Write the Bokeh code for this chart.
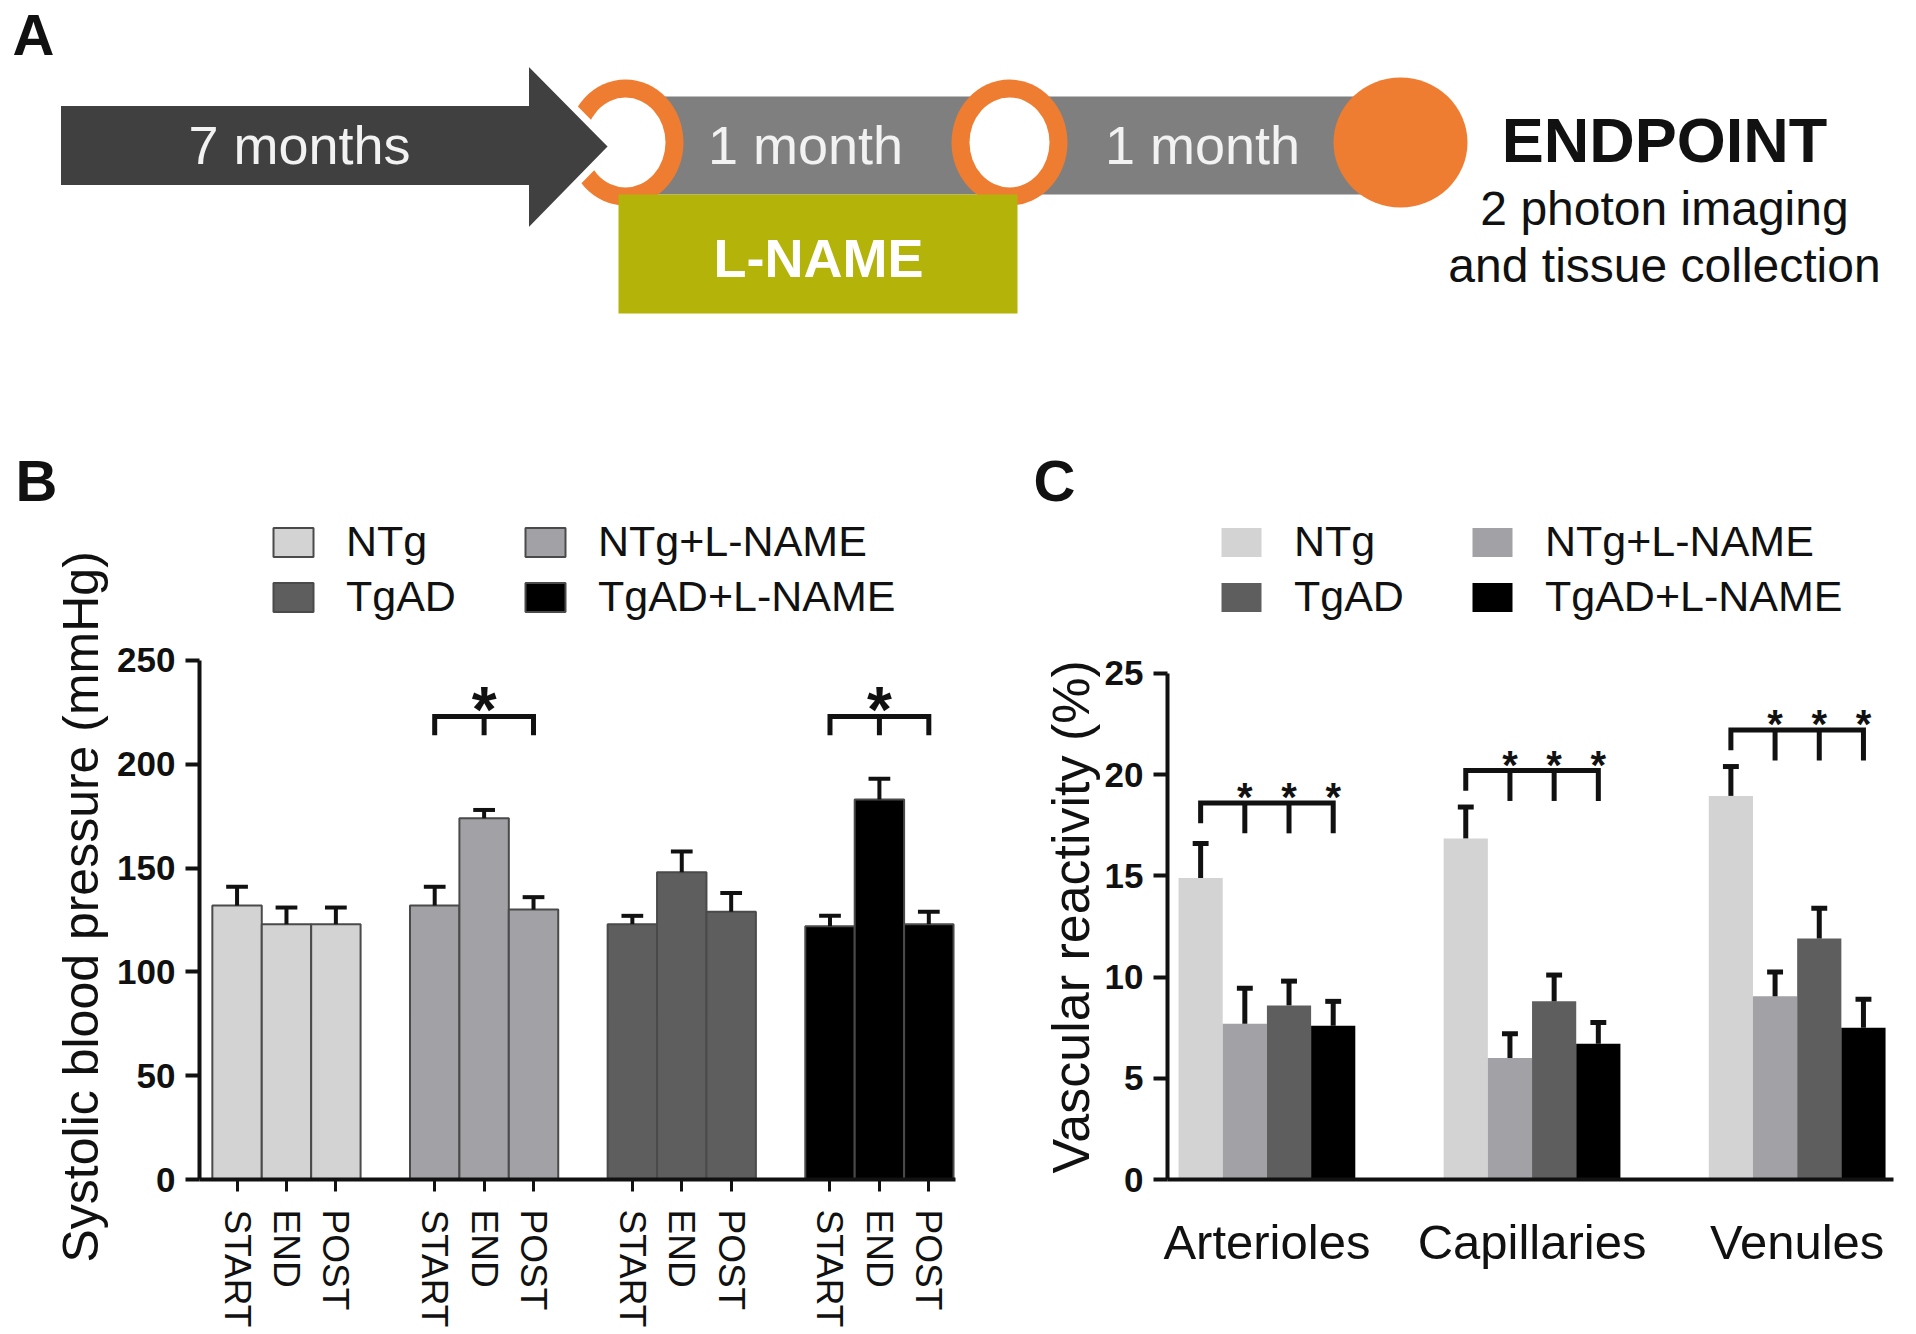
from bokeh.plotting import figure
from bokeh.models import Range1d, FixedTicker, Legend, LegendItem, Title
from bokeh.layouts import column, row
from bokeh.core.properties import value
from bokeh.embed import file_html
from bokeh.resources import INLINE

FONT = "Liberation Sans"
INK = "#111111"
ORANGE = "#ee7d31"
DARK = "#404040"
MIDGRAY = "#7f7f7f"
OLIVE = "#b4b30a"

# ---------------- data ----------------
panel_letters = ["A", "B", "C"]
timeline_labels = ["7 months", "1 month", "1 month"]
treatment_label = "L-NAME"
endpoint_title = "ENDPOINT"
endpoint_lines = ["2 photon imaging", "and tissue collection"]

groups = ["NTg", "NTg+L-NAME", "TgAD", "TgAD+L-NAME"]
group_colors = ["#d3d3d3", "#a1a1a6", "#5e5e5e", "#000000"]

timepoints = ["START", "END", "POST"]
sbp_ntg = [132, 123, 123]
sbp_ntg_lname = [132, 174, 130]
sbp_tgad = [123, 148, 129]
sbp_tgad_lname = [122, 183, 123]
sbp_sem_ntg = [9, 8, 8]
sbp_sem_ntg_lname = [9, 4, 6]
sbp_sem_tgad = [4, 10, 9]
sbp_sem_tgad_lname = [5, 10, 6]
sbp_sig_groups = ["NTg+L-NAME", "TgAD+L-NAME"]
sbp_sig_level = 223
sbp_ticks = [0, 50, 100, 150, 200, 250]
sbp_axis_title = "Systolic blood pressure (mmHg)"

vessels = ["Arterioles", "Capillaries", "Venules"]
vr_ntg = [14.9, 16.85, 18.95]
vr_ntg_lname = [7.7, 6.0, 9.05]
vr_tgad = [8.6, 8.8, 11.9]
vr_tgad_lname = [7.6, 6.7, 7.5]
vr_sem_ntg = [1.7, 1.55, 1.45]
vr_sem_ntg_lname = [1.75, 1.2, 1.2]
vr_sem_tgad = [1.2, 1.3, 1.5]
vr_sem_tgad_lname = [1.2, 1.05, 1.4]
vr_sig_levels = [18.6, 20.2, 22.2]
vr_ticks = [0, 5, 10, 15, 20, 25]
vr_axis_title = "Vascular reactivity (%)"

sbp_means = [sbp_ntg, sbp_ntg_lname, sbp_tgad, sbp_tgad_lname]
sbp_sems = [sbp_sem_ntg, sbp_sem_ntg_lname, sbp_sem_tgad, sbp_sem_tgad_lname]
vr_means = [vr_ntg, vr_ntg_lname, vr_tgad, vr_tgad_lname]
vr_sems = [vr_sem_ntg, vr_sem_ntg_lname, vr_sem_tgad, vr_sem_tgad_lname]


def base_fig(**kw):
    p = figure(output_backend="svg", toolbar_location=None, **kw)
    p.grid.visible = False
    p.outline_line_color = None
    p.background_fill_color = "white"
    p.border_fill_color = "white"
    return p


# ---------------- panel A : timeline (1 unit = 1 px) ----------------
pA = base_fig(width=1916, height=513, x_range=Range1d(0, 1916), y_range=Range1d(0, 513),
              x_axis_type=None, y_axis_type=None, min_border=0)

pA.quad(left=[600], right=[1400], bottom=[319], top=[417], fill_color=MIDGRAY, line_color=None)
pA.ellipse(x=[625, 1009], y=[371, 371], width=116, height=126, fill_color=ORANGE, line_color=None)
pA.ellipse(x=[625, 1009], y=[371, 371], width=80, height=90, fill_color="white", line_color=None)
pA.ellipse(x=[1400], y=[371], width=134, height=130, fill_color=ORANGE, line_color=None)
pA.quad(left=[618], right=[1017], bottom=[200], top=[319], fill_color=OLIVE, line_color=None)
pA.patch(x=[57, 525, 525, 612, 525, 525, 57], y=[411, 411, 455, 367, 278, 325, 325],
         fill_color=DARK, line_color="white", line_width=7, line_join="miter")

pA.text(x=[299, 805, 1202], y=[369, 369, 369], text=timeline_labels,
        text_font=value(FONT), text_font_size="54px", text_align="center",
        text_baseline="middle", text_color="#f2f2f2")
pA.text(x=[818], y=[256], text=[treatment_label], text_font=value(FONT),
        text_font_style="bold", text_font_size="54px", text_align="center",
        text_baseline="middle", text_color="white")
pA.text(x=[1664], y=[374], text=[endpoint_title], text_font=value(FONT),
        text_font_style="bold", text_font_size="63px", text_align="center",
        text_baseline="middle", text_color=INK)
pA.text(x=[1664, 1664], y=[305, 248], text=endpoint_lines, text_font=value(FONT),
        text_font_size="48px", text_align="center", text_baseline="middle",
        text_color=INK)
pA.text(x=[12, 15, 1033], y=[479, 33, 33], text=panel_letters, text_font=value(FONT),
        text_font_style="bold", text_font_size="58px", text_baseline="middle",
        text_color=INK)


def style_axes(p):
    for ax in (p.xaxis[0], p.yaxis[0]):
        ax.axis_line_width = 4
        ax.axis_line_color = INK
        ax.major_tick_line_width = 4
        ax.major_tick_line_color = INK
        ax.major_tick_in = 0
        ax.minor_tick_line_color = None
        ax.major_label_text_font = FONT
        ax.major_label_text_color = INK


def make_legends(p, renderers, x1, x2, y):
    for xloc, idx in ((x1, [0, 2]), (x2, [1, 3])):
        leg = Legend(items=[LegendItem(label=groups[i], renderers=[renderers[i]]) for i in idx],
                     location=(xloc, y), orientation="vertical",
                     glyph_width=50, glyph_height=36, label_standoff=28, spacing=6,
                     padding=0, margin=0, border_line_color=None, background_fill_alpha=0,
                     label_text_font=FONT, label_text_font_size="43px", label_text_color=INK)
        p.add_layout(leg)


def add_axis_title(p, text, size, offset, standoff):
    # vertical axis title on the left; "left" alignment starts the text at the frame
    # bottom, shifted by offset (negative = lower)
    p.add_layout(Title(text=text, align="left", offset=offset, standoff=standoff,
                       text_font=FONT, text_font_size=size, text_font_style="normal",
                       text_color=INK), "left")


H = 821
BOTTOM = 155  # shared frame bottom border (frames of a row are aligned)

# ---------------- panel B : systolic blood pressure ----------------
pB = base_fig(width=1018, height=H, x_range=Range1d(-0.26, 15.04), y_range=Range1d(0, 320.8),
              min_border_left=199, min_border_right=63, min_border_top=0, min_border_bottom=BOTTOM)

rendB = []
xB_all = []
for g, (means, sems, col) in enumerate(zip(sbp_means, sbp_sems, group_colors)):
    xs = [g * 4 + i + 0.5 for i in range(len(means))]
    xB_all += xs
    r = pB.vbar(x=xs, top=means, bottom=0, width=1.0, fill_color=col, line_color="#4a4a4a", line_width=2)
    rendB.append(r)
    tops = [m + s for m, s in zip(means, sems)]
    pB.segment(x0=xs, y0=means, x1=xs, y1=tops, line_width=4, line_color=INK)
    pB.segment(x0=[x - 0.22 for x in xs], y0=tops, x1=[x + 0.22 for x in xs], y1=tops,
               line_width=4, line_color=INK)
    if groups[g] in sbp_sig_groups:
        drop = 9
        pB.line(x=[xs[0], xs[0], xs[-1], xs[-1]],
                y=[sbp_sig_level - drop, sbp_sig_level, sbp_sig_level, sbp_sig_level - drop],
                line_width=5, line_color=INK, line_join="miter")
        pB.segment(x0=[xs[1]], y0=[sbp_sig_level], x1=[xs[1]], y1=[sbp_sig_level - drop],
                   line_width=5, line_color=INK)
        pB.text(x=[xs[1]], y=[sbp_sig_level], text=["*"], text_font=value(FONT),
                text_font_style="bold", text_font_size="64px", text_align="center",
                text_baseline="middle", y_offset=-7, text_color=INK)

style_axes(pB)
pB.yaxis.ticker = FixedTicker(ticks=sbp_ticks)
pB.yaxis.bounds = (0, 250)
pB.yaxis.major_tick_out = 14
pB.yaxis.major_label_text_font_style = "bold"
pB.yaxis.major_label_text_font_size = "35px"
pB.yaxis.major_label_standoff = 10
add_axis_title(pB, sbp_axis_title, "50px", -83, 12)

pB.xaxis.ticker = FixedTicker(ticks=xB_all)
pB.xaxis.major_label_overrides = {x: timepoints[i % 3] for i, x in enumerate(xB_all)}
pB.xaxis.major_label_orientation = "vertical"
pB.xaxis.major_label_text_font_size = "37px"
pB.xaxis.major_tick_out = 12
pB.xaxis.major_tick_line_width = 3
pB.xaxis.major_label_standoff = 18

make_legends(pB, rendB, 69, 321, 558)

# ---------------- panel C : vascular reactivity ----------------
pC = base_fig(width=898, height=H, x_range=Range1d(-0.25, 16.18), y_range=Range1d(0, 32.9),
              min_border_left=149, min_border_right=23, min_border_top=0, min_border_bottom=BOTTOM)

rendC = []
for g, (means, sems, col) in enumerate(zip(vr_means, vr_sems, group_colors)):
    xs = [v * 6 + g + 0.5 for v in range(len(vessels))]
    r = pC.vbar(x=xs, top=means, bottom=0, width=1.0, fill_color=col, line_color=None)
    rendC.append(r)
    tops = [m + s for m, s in zip(means, sems)]
    pC.segment(x0=xs, y0=means, x1=xs, y1=tops, line_width=5, line_color=INK)
    pC.segment(x0=[x - 0.18 for x in xs], y0=tops, x1=[x + 0.18 for x in xs], y1=tops,
               line_width=5, line_color=INK)

for v, lvl in enumerate(vr_sig_levels):
    cx = [v * 6 + g + 0.5 for g in range(len(groups))]
    pC.line(x=[cx[0], cx[0], cx[-1], cx[-1]], y=[lvl - 1.0, lvl, lvl, lvl - 1.5],
            line_width=5, line_color=INK, line_join="miter")
    pC.segment(x0=cx[1:3], y0=[lvl, lvl], x1=cx[1:3], y1=[lvl - 1.5, lvl - 1.5],
               line_width=5, line_color=INK)
    pC.text(x=cx[1:], y=[lvl] * 3, text=["*"] * 3, text_font=value(FONT),
            text_font_style="bold", text_font_size="40px", text_align="center",
            text_baseline="middle", y_offset=-6, text_color=INK)

style_axes(pC)
pC.yaxis.ticker = FixedTicker(ticks=vr_ticks)
pC.yaxis.bounds = (0, 25)
pC.yaxis.major_tick_out = 14
pC.yaxis.major_label_text_font_style = "bold"
pC.yaxis.major_label_text_font_size = "35px"
pC.yaxis.major_label_standoff = 10
add_axis_title(pC, vr_axis_title, "52px", 6, 4)

vessel_centers = [v * 6 + 2 for v in range(len(vessels))]
pC.xaxis.ticker = FixedTicker(ticks=vessel_centers)
pC.xaxis.major_label_overrides = {x: vessels[i] for i, x in enumerate(vessel_centers)}
pC.xaxis.major_tick_line_color = None
pC.xaxis.major_tick_out = 0
pC.xaxis.major_label_text_font_size = "49px"
pC.xaxis.major_label_standoff = 35

make_legends(pC, rendC, 49, 300, 558)

layout = column(pA, row(pB, pC))
open("out.html", "w").write(file_html(layout, INLINE))
